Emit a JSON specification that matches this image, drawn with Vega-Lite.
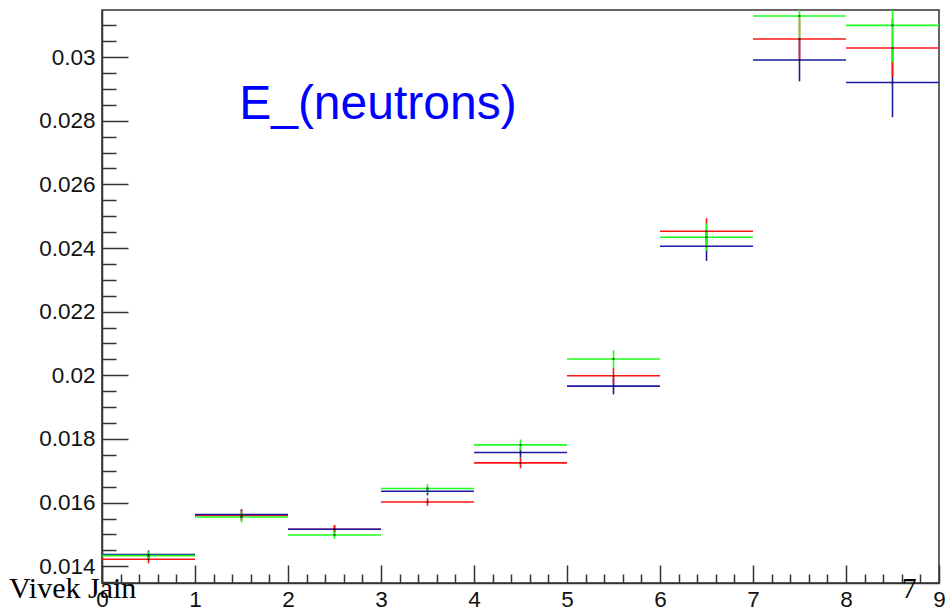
{
  "$schema": "https://vega.github.io/schema/vega-lite/v6.json",
  "width": 837,
  "height": 573,
  "autosize": {"type": "none"},
  "padding": {"left": 102, "top": 10, "right": 6, "bottom": 27},
  "background": "white",
  "config": {
    "view": {"stroke": "#333333", "strokeWidth": 1.5},
    "axis": {
      "grid": false,
      "labelFont": "Liberation Sans",
      "labelFontSize": 22.5,
      "labelColor": "#111111",
      "domainColor": "#333333",
      "domainWidth": 1.5,
      "tickColor": "#333333",
      "tickWidth": 1.5,
      "title": null
    }
  },
  "datasets": {
    "bins": [
      {"series": "B", "lo": 0, "hi": 1, "xc": 0.5, "value": 0.01422, "ylo": 0.01409, "yhi": 0.01435},
      {"series": "B", "lo": 1, "hi": 2, "xc": 1.5, "value": 0.015595, "ylo": 0.015425, "yhi": 0.015765},
      {"series": "B", "lo": 2, "hi": 3, "xc": 2.5, "value": 0.015164, "ylo": 0.015034, "yhi": 0.015294},
      {"series": "B", "lo": 3, "hi": 4, "xc": 3.5, "value": 0.016022, "ylo": 0.015902, "yhi": 0.016142},
      {"series": "B", "lo": 4, "hi": 5, "xc": 4.5, "value": 0.017249, "ylo": 0.017079, "yhi": 0.017419},
      {"series": "B", "lo": 5, "hi": 6, "xc": 5.5, "value": 0.019985, "ylo": 0.019735, "yhi": 0.020235},
      {"series": "B", "lo": 6, "hi": 7, "xc": 6.5, "value": 0.024527, "ylo": 0.024117, "yhi": 0.024937},
      {"series": "B", "lo": 7, "hi": 8, "xc": 7.5, "value": 0.030566, "ylo": 0.029906, "yhi": 0.031226},
      {"series": "B", "lo": 8, "hi": 9, "xc": 8.5, "value": 0.030283, "ylo": 0.029373, "yhi": 0.031193},
      {"series": "A", "lo": 0, "hi": 1, "xc": 0.5, "value": 0.014368, "ylo": 0.014238, "yhi": 0.014498},
      {"series": "A", "lo": 1, "hi": 2, "xc": 1.5, "value": 0.015626, "ylo": 0.015456, "yhi": 0.015796},
      {"series": "A", "lo": 2, "hi": 3, "xc": 2.5, "value": 0.015164, "ylo": 0.015034, "yhi": 0.015294},
      {"series": "A", "lo": 3, "hi": 4, "xc": 3.5, "value": 0.016359, "ylo": 0.016229, "yhi": 0.016489},
      {"series": "A", "lo": 4, "hi": 5, "xc": 4.5, "value": 0.017576, "ylo": 0.017416, "yhi": 0.017736},
      {"series": "A", "lo": 5, "hi": 6, "xc": 5.5, "value": 0.019661, "ylo": 0.019401, "yhi": 0.019921},
      {"series": "A", "lo": 6, "hi": 7, "xc": 6.5, "value": 0.024055, "ylo": 0.023595, "yhi": 0.024515},
      {"series": "A", "lo": 7, "hi": 8, "xc": 7.5, "value": 0.029906, "ylo": 0.029236, "yhi": 0.030576},
      {"series": "A", "lo": 8, "hi": 9, "xc": 8.5, "value": 0.029201, "ylo": 0.028111, "yhi": 0.030291},
      {"series": "C", "lo": 0, "hi": 1, "xc": 0.5, "value": 0.014336, "ylo": 0.014206, "yhi": 0.014466},
      {"series": "C", "lo": 1, "hi": 2, "xc": 1.5, "value": 0.015551, "ylo": 0.015381, "yhi": 0.015721},
      {"series": "C", "lo": 2, "hi": 3, "xc": 2.5, "value": 0.014985, "ylo": 0.014865, "yhi": 0.015105},
      {"series": "C", "lo": 3, "hi": 4, "xc": 3.5, "value": 0.016444, "ylo": 0.016304, "yhi": 0.016584},
      {"series": "C", "lo": 4, "hi": 5, "xc": 4.5, "value": 0.017815, "ylo": 0.017645, "yhi": 0.017985},
      {"series": "C", "lo": 5, "hi": 6, "xc": 5.5, "value": 0.020511, "ylo": 0.020241, "yhi": 0.020781},
      {"series": "C", "lo": 6, "hi": 7, "xc": 6.5, "value": 0.024338, "ylo": 0.023908, "yhi": 0.024768},
      {"series": "C", "lo": 7, "hi": 8, "xc": 7.5, "value": 0.031289, "ylo": 0.030569, "yhi": 0.032009},
      {"series": "C", "lo": 8, "hi": 9, "xc": 8.5, "value": 0.030994, "ylo": 0.029834, "yhi": 0.032154}
    ],
    "heading": [
      {"label": "E_(neutrons)", "x": 1.475, "y": 0.02806}
    ],
    "footer": [
      {"label": "Vivek Jain", "x": -1.0, "y": 0.013},
      {"label": "7", "x": 8.6, "y": 0.013}
    ]
  },
  "resolve": {"axis": {"x": "independent", "y": "independent"}},
  "layer": [
    {
      "data": {"name": "bins"},
      "mark": {"type": "rule", "strokeWidth": 1.6, "clip": true},
      "encoding": {
        "x": {
          "field": "lo", "type": "quantitative",
          "scale": {"domain": [0, 9], "nice": false, "zero": false},
          "axis": {"orient": "bottom", "values": [0, 1, 2, 3, 4, 5, 6, 7, 8, 9], "tickSize": -18, "labelPadding": 23, "format": "d", "labelFlush": false, "labelOverlap": false}
        },
        "x2": {"field": "hi"},
        "y": {
          "field": "value", "type": "quantitative",
          "scale": {"domain": [0.013475, 0.031478], "nice": false, "zero": false},
          "axis": {"orient": "left", "values": [0.014, 0.016, 0.018, 0.02, 0.022, 0.024, 0.026, 0.028, 0.03], "tickSize": -26, "labelPadding": 33, "format": "~g", "labelFlush": false, "labelOverlap": false}
        },
        "color": {
          "field": "series", "type": "nominal",
          "scale": {"domain": ["A", "B", "C"], "range": ["#1a1aa6", "#ff1414", "#1eff1e"]},
          "legend": null
        }
      }
    },
    {
      "data": {"name": "bins"},
      "mark": {"type": "rule", "strokeWidth": 1.6, "clip": true},
      "encoding": {
        "x": {
          "field": "xc", "type": "quantitative",
          "axis": {"orient": "bottom", "values": [0.2, 0.4, 0.6, 0.8, 1.2, 1.4, 1.6, 1.8, 2.2, 2.4, 2.6, 2.8, 3.2, 3.4, 3.6, 3.8, 4.2, 4.4, 4.6, 4.8, 5.2, 5.4, 5.6, 5.8, 6.2, 6.4, 6.6, 6.8, 7.2, 7.4, 7.6, 7.8, 8.2, 8.4, 8.6, 8.8], "tickSize": -9, "labels": false, "domain": false}
        },
        "y": {
          "field": "ylo", "type": "quantitative",
          "axis": {"orient": "left", "values": [0.0135, 0.0145, 0.015, 0.0155, 0.0165, 0.017, 0.0175, 0.0185, 0.019, 0.0195, 0.0205, 0.021, 0.0215, 0.0225, 0.023, 0.0235, 0.0245, 0.025, 0.0255, 0.0265, 0.027, 0.0275, 0.0285, 0.029, 0.0295, 0.0305, 0.031], "tickSize": -14, "labels": false, "domain": false}
        },
        "y2": {"field": "yhi"},
        "color": {"field": "series", "type": "nominal", "legend": null},
        "order": {"field": "series", "sort": "ascending"}
      }
    },
    {
      "data": {"name": "bins"},
      "mark": {"type": "point", "shape": "square", "filled": true, "size": 3, "color": "#000000", "opacity": 0.8},
      "encoding": {
        "x": {"field": "xc", "type": "quantitative", "axis": null},
        "y": {"field": "value", "type": "quantitative", "axis": null}
      }
    },
    {
      "data": {"name": "heading"},
      "mark": {"type": "text", "font": "Liberation Sans", "fontSize": 48, "color": "#0000ff", "align": "left", "baseline": "alphabetic"},
      "encoding": {
        "x": {"field": "x", "type": "quantitative", "axis": null},
        "y": {"field": "y", "type": "quantitative", "axis": null},
        "text": {"field": "label"}
      }
    },
    {
      "data": {"name": "footer"},
      "mark": {"type": "text", "font": "Liberation Serif", "fontSize": 30, "color": "#000000", "align": "left", "baseline": "alphabetic"},
      "encoding": {
        "x": {"field": "x", "type": "quantitative", "axis": null},
        "y": {"field": "y", "type": "quantitative", "axis": null},
        "text": {"field": "label"}
      }
    }
  ]
}
